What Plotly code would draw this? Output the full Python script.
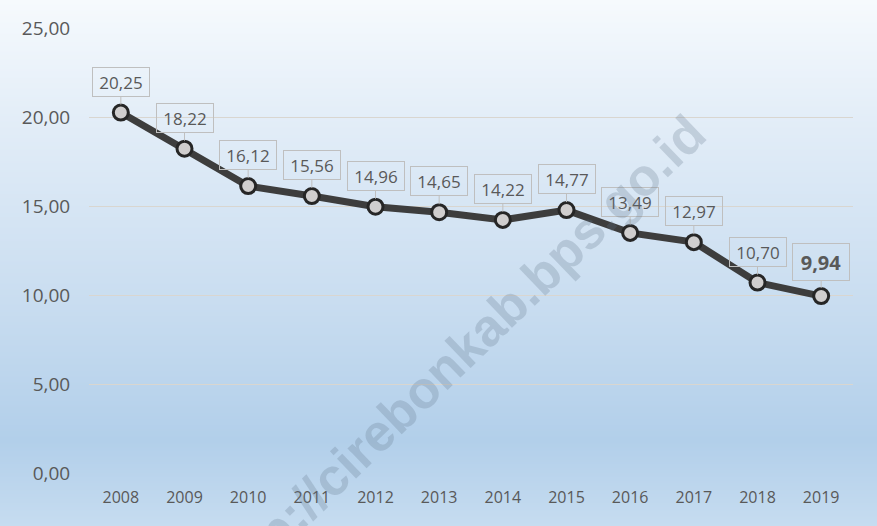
import base64, struct, zlib
import plotly.graph_objects as go

years = ["2008", "2009", "2010", "2011", "2012", "2013", "2014", "2015", "2016", "2017", "2018", "2019"]
values = [20.25, 18.22, 16.12, 15.56, 14.96, 14.65, 14.22, 14.77, 13.49, 12.97, 10.70, 9.94]
label_texts = ["20,25", "18,22", "16,12", "15,56", "14,96", "14,65", "14,22", "14,77", "13,49", "12,97", "10,70", "9,94"]
y_ticks = [0, 5, 10, 15, 20, 25]
y_tick_labels = ["0,00", "5,00", "10,00", "15,00", "20,00", "25,00"]
watermark = "http://cirebonkab.bps.go.id"

W, H = 877, 526
ML, MR, MT, MB = 89, 24, 28, 53
PW, PH = W - ML - MR, H - MT - MB

# background gradient image (vertical)
stops = [(0, (246, 250, 253)), (110, (228, 238, 248)), (300, (201, 221, 240)),
         (440, (178, 207, 234)), (526, (198, 220, 240))]

def col_at(y):
    for (y0, c0), (y1, c1) in zip(stops[:-1], stops[1:]):
        if y0 <= y <= y1:
            t = (y - y0) / (y1 - y0)
            return tuple(int(round(a + (b - a) * t)) for a, b in zip(c0, c1))
    return stops[-1][1]

def make_png(h):
    raw = b"".join(b"\x00" + bytes(col_at(y)) * 2 for y in range(h))
    def chunk(tag, data):
        return struct.pack(">I", len(data)) + tag + data + struct.pack(">I", zlib.crc32(tag + data) & 0xffffffff)
    png = b"\x89PNG\r\n\x1a\n" + chunk(b"IHDR", struct.pack(">IIBBBBB", 2, h, 8, 2, 0, 0, 0)) \
        + chunk(b"IDAT", zlib.compress(raw)) + chunk(b"IEND", b"")
    return "data:image/png;base64," + base64.b64encode(png).decode()

idx = list(range(len(years)))

fig = go.Figure()
fig.add_trace(go.Scatter(
    x=idx, y=values, mode="lines+markers",
    line=dict(color="#3d3d3d", width=7),
    marker=dict(size=15, color="#d0cece", line=dict(color="#262626", width=3)),
    hoverinfo="skip", showlegend=False))

annotations = []
for i, v, t in zip(idx, values, label_texts):
    last = i == len(years) - 1
    annotations.append(dict(
        x=i, y=v, xref="x", yref="y", text=("<b>%s</b>" % t) if last else t,
        showarrow=True, arrowhead=0, arrowwidth=1, arrowcolor="#bfbfbf",
        ax=0, ay=-34 if last else -31, standoff=8,
        font=dict(family="Open Sans", size=20 if last else 17, color="#595959"),
        bordercolor="#bfbfbf", borderwidth=1, borderpad=3,
        width=50, height=30 if last else 22, bgcolor="rgba(0,0,0,0)"))

annotations.append(dict(
    x=(456 - ML) / PW, y=(H - MB - 357) / PH, xref="paper", yref="paper",
    xanchor="center", yanchor="middle",
    text="<b>%s</b>" % watermark, showarrow=False, textangle=-44,
    font=dict(family="Liberation Sans", size=52, color="rgba(95,115,135,0.25)")))

fig.update_layout(
    width=W, height=H,
    margin=dict(l=ML, r=MR, t=MT, b=MB),
    paper_bgcolor="rgba(0,0,0,0)", plot_bgcolor="rgba(0,0,0,0)",
    separators=",.",
    annotations=annotations,
    images=[dict(source=make_png(H), xref="paper", yref="paper",
                 x=-ML / PW, y=1 + MT / PH, sizex=W / PW, sizey=H / PH,
                 xanchor="left", yanchor="top", sizing="stretch", layer="below")],
    xaxis=dict(range=[-0.5, len(years) - 0.5], tickvals=idx, ticktext=years,
               showgrid=False, zeroline=False, showline=False,
               ticks="outside", ticklen=10, tickcolor="rgba(0,0,0,0)",
               tickfont=dict(family="Open Sans", size=16, color="#595959")),
    yaxis=dict(range=[0, 25], tickvals=y_ticks, ticktext=y_tick_labels,
               showgrid=True, gridcolor="#d9d6d0", gridwidth=1,
               zeroline=False, showline=False,
               ticks="outside", ticklen=14, tickcolor="rgba(0,0,0,0)",
               tickfont=dict(family="Open Sans", size=19, color="#595959")),
)

fig.write_html("out.html", config={"displayModeBar": False},
               post_script="document.body.style.margin='0';")
